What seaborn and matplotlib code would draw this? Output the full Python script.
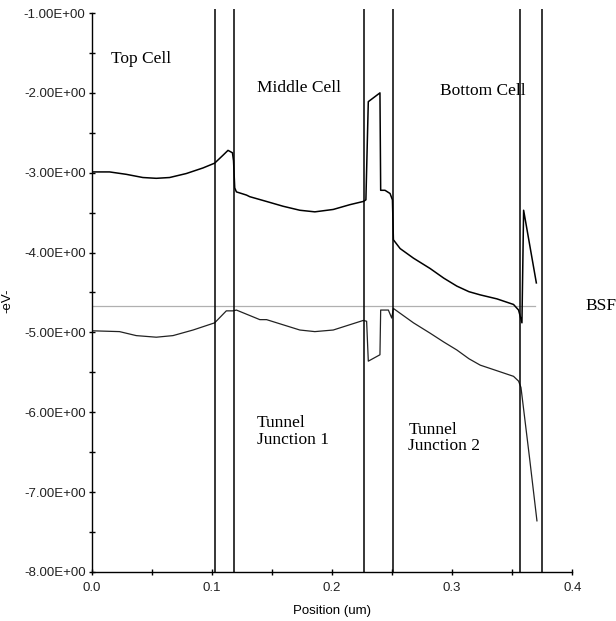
import numpy as np
import seaborn as sns
import matplotlib
matplotlib.use("Agg")
import matplotlib.pyplot as plt
from matplotlib.ticker import FuncFormatter, MultipleLocator

# band edges (position in um, energy in eV)
ec_x = [0.0008, 0.0148, 0.0287, 0.0425, 0.0537, 0.0648, 0.0787, 0.0926, 0.1023, 0.1093,
        0.1134, 0.1171, 0.1180, 0.1190, 0.1204, 0.1288, 0.1315, 0.1455, 0.1593, 0.1732,
        0.1857, 0.2010, 0.2149, 0.2260, 0.2282, 0.2302, 0.2399, 0.2405, 0.2441, 0.2483,
        0.2503, 0.2511, 0.2567, 0.2678, 0.2817, 0.2930, 0.3039, 0.3140, 0.3234, 0.3373,
        0.3511, 0.3553, 0.3581, 0.3595, 0.3701]
ec_y = [-2.99, -2.99, -3.02, -3.06, -3.07, -3.06, -3.01, -2.94, -2.88, -2.78,
        -2.72, -2.75, -2.85, -3.19, -3.24, -3.28, -3.30, -3.36, -3.42, -3.47,
        -3.49, -3.46, -3.40, -3.36, -3.34, -2.11, -2.00, -3.22, -3.22, -3.26,
        -3.34, -3.84, -3.95, -4.07, -4.20, -4.32, -4.42, -4.49, -4.53, -4.58,
        -4.65, -4.72, -4.88, -3.47, -4.38]

ev_x = [0.0008, 0.0231, 0.0370, 0.0537, 0.0676, 0.0843, 0.1023, 0.1120, 0.1176, 0.1204,
        0.1399, 0.1455, 0.1732, 0.1857, 0.2010, 0.2260, 0.2288, 0.2302, 0.2399, 0.2405,
        0.2469, 0.2497, 0.2511, 0.2678, 0.2817, 0.2930, 0.3039, 0.3140, 0.3234, 0.3373,
        0.3511, 0.3553, 0.3573, 0.3645, 0.3706]
ev_y = [-4.98, -4.99, -5.04, -5.06, -5.04, -4.97, -4.88, -4.73, -4.73, -4.72,
        -4.84, -4.84, -4.97, -4.99, -4.97, -4.85, -4.86, -5.36, -5.28, -4.72,
        -4.72, -4.82, -4.70, -4.88, -5.01, -5.12, -5.22, -5.33, -5.41, -5.48,
        -5.55, -5.61, -5.69, -6.58, -7.36]

fermi_x = [0.0, 0.369]
fermi_y = [-4.67, -4.67]

boundaries = [0.1023, 0.1186, 0.2264, 0.2508, 0.3566, 0.375]

labels = ["Top Cell", "Middle Cell", "Bottom Cell", "Tunnel\nJunction 1", "Tunnel\nJunction 2", "BSF"]
label_x = [0.016, 0.1376, 0.290, 0.1376, 0.2636, 0.411]
label_y = [-1.58, -1.94, -1.98, -6.24, -6.32, -4.67]

fig = plt.figure(figsize=(6.16, 6.21), dpi=100)
ax = fig.add_axes([0.149, 0.079, 0.78, 0.9])

sns.lineplot(x=fermi_x, y=fermi_y, ax=ax, color="#b0b0b0", lw=0.9, sort=False, estimator=None)
sns.lineplot(x=ec_x, y=ec_y, ax=ax, color="black", lw=1.1, sort=False, estimator=None)
sns.lineplot(x=ev_x, y=ev_y, ax=ax, color="#222222", lw=0.9, sort=False, estimator=None)
ax.vlines(boundaries, -8, -0.95, color="black", lw=1.1, clip_on=False)

for t, x, y in zip(labels, label_x, label_y):
    ax.text(x, y, t, family="Liberation Serif", fontsize=12.5, ha="left", va="center",
            linespacing=1.05, clip_on=False)

ax.set_xlim(0, 0.4)
ax.set_ylim(-8, -1)
ax.xaxis.set_major_locator(MultipleLocator(0.1))
ax.xaxis.set_minor_locator(MultipleLocator(0.05))
ax.yaxis.set_major_locator(MultipleLocator(1))
ax.yaxis.set_minor_locator(MultipleLocator(0.5))
ax.xaxis.set_major_formatter(FuncFormatter(lambda v, p: f"{v:.1f}"))
ax.yaxis.set_major_formatter(FuncFormatter(lambda v, p: f"{v:.2E}"))
ax.tick_params(which="both", direction="inout", color="black", width=1)
ax.tick_params(which="major", length=5, labelsize=9.5)
ax.tick_params(which="minor", length=4)
ax.tick_params(axis="x", pad=5)
ax.tick_params(axis="y", pad=2)
for lab in ax.get_xticklabels() + ax.get_yticklabels():
    lab.set_family("Liberation Sans")
    lab.set_color("#222222")

sns.despine(ax=ax)
for s in ["left", "bottom"]:
    ax.spines[s].set_linewidth(1)
    ax.spines[s].set_color("black")

ax.set_xlabel("Position (um)", family="Liberation Sans", fontsize=9.5)
ax.set_ylabel("-eV-", family="Liberation Sans", fontsize=9.5)
ax.xaxis.set_label_coords(0.5, -0.059)
ax.yaxis.set_label_coords(-0.163, 0.486)

fig.savefig("out.png", dpi=100)
